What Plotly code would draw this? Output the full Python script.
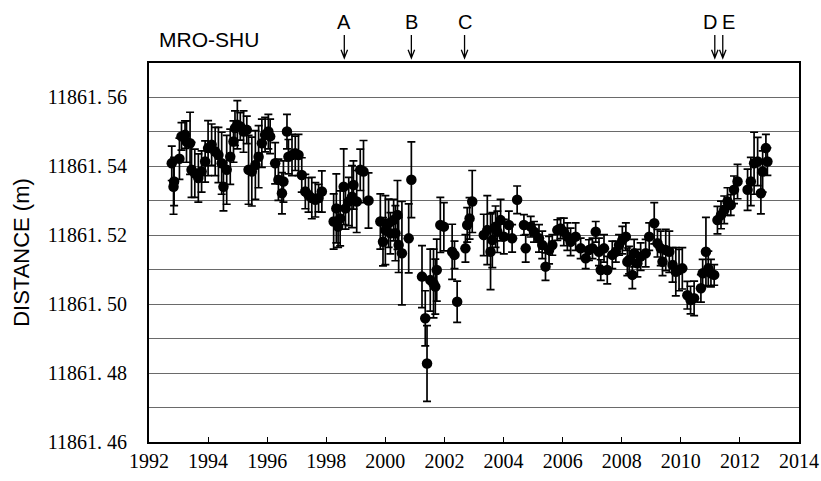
import plotly.graph_objects as go

# decimal year, distance (m), error half-width (m)
years = [
    1992.77, 1992.85, 1992.83, 1993.03, 1993.10, 1993.22, 1993.27, 1993.39, 1993.44, 1993.55,
    1993.67, 1993.78, 1993.90, 1994.00, 1994.12, 1994.24, 1994.35, 1994.46, 1994.52, 1994.63,
    1994.75, 1994.86, 1994.91, 1994.99, 1995.09, 1995.20, 1995.31, 1995.37, 1995.48, 1995.60,
    1995.71, 1995.82, 1995.93, 1996.04, 1996.10, 1996.27, 1996.38, 1996.50, 1996.55, 1996.67,
    1996.72, 1996.84, 1996.95, 1997.06, 1997.17, 1997.29, 1997.40, 1997.51, 1997.63, 1997.74,
    1997.85,
    1998.25, 1998.34, 1998.40, 1998.47, 1998.59, 1998.65, 1998.76, 1998.87, 1998.92, 1999.03,
    1999.15, 1999.26, 1999.43,
    1999.83, 1999.92, 2000.00, 2000.11, 2000.17, 2000.28, 2000.34, 2000.41, 2000.45, 2000.56,
    2000.79, 2000.88,
    2001.24, 2001.35, 2001.41, 2001.52, 2001.63, 2001.69, 2001.74, 2001.86, 2001.98, 2002.26,
    2002.34, 2002.43, 2002.71, 2002.77, 2002.85, 2002.94,
    2003.33, 2003.45, 2003.56, 2003.62, 2003.73, 2003.79, 2003.90, 2004.01, 2004.18, 2004.29,
    2004.46, 2004.69, 2004.75, 2004.92, 2005.03, 2005.20, 2005.31, 2005.42, 2005.54, 2005.65,
    2005.82, 2005.93, 2006.04, 2006.16, 2006.27, 2006.44, 2006.61, 2006.78, 2006.89, 2007.01,
    2007.12, 2007.23, 2007.29, 2007.40, 2007.51, 2007.68, 2007.80, 2007.91, 2008.02, 2008.14,
    2008.25, 2008.19, 2008.36, 2008.42, 2008.53, 2008.64, 2008.81, 2008.93, 2009.10, 2009.21,
    2009.32, 2009.38, 2009.49, 2009.61, 2009.72, 2009.83, 2009.94, 2010.05, 2010.22, 2010.33,
    2010.45, 2010.68, 2010.74, 2010.85, 2010.93, 2011.02, 2011.13, 2011.24, 2011.36, 2011.47,
    2011.58, 2011.69, 2011.80, 2011.92, 2012.26, 2012.37, 2012.48, 2012.60, 2012.71, 2012.77,
    2012.88, 2012.93,
]

distance = [
    11861.5409, 11861.5356, 11861.5341, 11861.5422, 11861.5487, 11861.5492, 11861.5472, 11861.5467, 11861.5390, 11861.5380,
    11861.5366, 11861.5385, 11861.5414, 11861.5453, 11861.5463, 11861.5443, 11861.5433, 11861.5409, 11861.5341, 11861.5390,
    11861.5428, 11861.5472, 11861.5511, 11861.5521, 11861.5516, 11861.5501, 11861.5506, 11861.5390, 11861.5385, 11861.5404,
    11861.5428, 11861.5467, 11861.5492, 11861.5501, 11861.5487, 11861.5409, 11861.5361, 11861.5322, 11861.5356, 11861.5501,
    11861.5428, 11861.5433, 11861.5438, 11861.5433, 11861.5375, 11861.5327, 11861.5317, 11861.5308, 11861.5303, 11861.5308,
    11861.5327,
    11861.5240, 11861.5278, 11861.5225, 11861.5249, 11861.5341, 11861.5278, 11861.5298, 11861.5312, 11861.5346, 11861.5298,
    11861.5390, 11861.5385, 11861.5301,
    11861.5240, 11861.5181, 11861.5215, 11861.5235, 11861.5206, 11861.5244, 11861.5206, 11861.5259, 11861.5172, 11861.5148,
    11861.5191, 11861.5361,
    11861.5080, 11861.4959, 11861.4828, 11861.5070, 11861.5060, 11861.5051, 11861.5099, 11861.5230, 11861.5225, 11861.5152,
    11861.5143, 11861.5007, 11861.5162, 11861.5230, 11861.5249, 11861.5298,
    11861.5201, 11861.5215, 11861.5152, 11861.5186, 11861.5225, 11861.5210, 11861.5244, 11861.5196, 11861.5230, 11861.5191,
    11861.5303, 11861.5230, 11861.5162, 11861.5225, 11861.5210, 11861.5191, 11861.5172, 11861.5109, 11861.5157, 11861.5172,
    11861.5215, 11861.5220, 11861.5210, 11861.5196, 11861.5181, 11861.5196, 11861.5162, 11861.5133, 11861.5157, 11861.5162,
    11861.5210, 11861.5152, 11861.5099, 11861.5162, 11861.5099, 11861.5143, 11861.5152, 11861.5172, 11861.5186, 11861.5196,
    11861.5128, 11861.5123, 11861.5085, 11861.5148, 11861.5119, 11861.5138, 11861.5148, 11861.5196, 11861.5235, 11861.5177,
    11861.5162, 11861.5123, 11861.5157, 11861.5152, 11861.5114, 11861.5094, 11861.5099, 11861.5104, 11861.5026, 11861.5012,
    11861.5017, 11861.5046, 11861.5090, 11861.5152, 11861.5104, 11861.5090, 11861.5085, 11861.5244, 11861.5259, 11861.5274,
    11861.5298, 11861.5288, 11861.5332, 11861.5356, 11861.5332, 11861.5356, 11861.5409, 11861.5414, 11861.5322, 11861.5385,
    11861.5453, 11861.5414,
]

errors = [
    0.005, 0.007, 0.008, 0.006, 0.004, 0.004, 0.006, 0.009, 0.008, 0.007,
    0.007, 0.006, 0.006, 0.008, 0.006, 0.007, 0.008, 0.009, 0.007, 0.010,
    0.008, 0.006, 0.005, 0.007, 0.004, 0.006, 0.004, 0.010, 0.010, 0.010,
    0.009, 0.007, 0.005, 0.005, 0.005, 0.006, 0.006, 0.006, 0.006, 0.005,
    0.005, 0.006, 0.005, 0.006, 0.005, 0.005, 0.005, 0.006, 0.005, 0.004,
    0.006,
    0.008, 0.010, 0.006, 0.008, 0.011, 0.006, 0.007, 0.009, 0.007, 0.009,
    0.006, 0.009, 0.008,
    0.008, 0.007, 0.010, 0.007, 0.006, 0.006, 0.008, 0.010, 0.008, 0.015,
    0.010, 0.011,
    0.009, 0.008, 0.011, 0.009, 0.010, 0.008, 0.009, 0.008, 0.007, 0.008,
    0.004, 0.006, 0.004, 0.005, 0.006, 0.009,
    0.006, 0.010, 0.011, 0.008, 0.006, 0.006, 0.006, 0.005, 0.004, 0.004,
    0.004, 0.003, 0.004, 0.003, 0.003, 0.004, 0.004, 0.004, 0.004, 0.003,
    0.003, 0.003, 0.004, 0.004, 0.004, 0.004, 0.003, 0.003, 0.003, 0.003,
    0.003, 0.004, 0.003, 0.004, 0.004, 0.004, 0.003, 0.003, 0.004, 0.004,
    0.004, 0.004, 0.004, 0.004, 0.004, 0.004, 0.004, 0.004, 0.006, 0.004,
    0.005, 0.004, 0.006, 0.006, 0.005, 0.007, 0.006, 0.006, 0.004, 0.004,
    0.005, 0.004, 0.004, 0.010, 0.005, 0.004, 0.003, 0.004, 0.004, 0.004,
    0.004, 0.003, 0.004, 0.005, 0.006, 0.007, 0.009, 0.007, 0.006, 0.006,
    0.004, 0.004,
]

y_tickvals = [11861.46, 11861.47, 11861.48, 11861.49, 11861.50, 11861.51,
              11861.52, 11861.53, 11861.54, 11861.55, 11861.56]
y_ticktext = ["11861. 46", "", "11861. 48", "", "11861. 50", "",
              "11861. 52", "", "11861. 54", "", "11861. 56"]
x_tickvals = [1992, 1994, 1996, 1998, 2000, 2002, 2004, 2006, 2008, 2010, 2012, 2014]

event_labels = ["A", "B", "C", "D", "E"]
event_years = [1998.61, 2000.88, 2002.68, 2011.15, 2011.42]
label_shift = [0, 0, 0, -5, 6]

fig = go.Figure()
fig.add_trace(go.Scatter(
    x=years, y=distance, mode="markers",
    marker=dict(color="black", size=10.5, line=dict(width=0)),
    error_y=dict(type="data", array=errors, visible=True,
                 color="black", thickness=1.7, width=4),
    showlegend=False,
))

annotations = [
    dict(text="MRO-SHU", xref="paper", yref="paper", x=0.013, y=1.062,
         xanchor="left", yanchor="middle", showarrow=False,
         font=dict(family="Liberation Sans", size=21, color="black")),
]
shapes = []
arrow_top, arrow_bot = 1.074, 1.013
head_h, head_w = 0.022, 0.11
for lab, yr, sh in zip(event_labels, event_years, label_shift):
    annotations.append(dict(text=lab, xref="x", yref="paper", x=yr, y=1.108,
                            xshift=sh, xanchor="center", yanchor="middle",
                            showarrow=False,
                            font=dict(family="Liberation Sans", size=20, color="black")))
    path = (f"M {yr},{arrow_top} L {yr},{arrow_bot} "
            f"M {yr - head_w},{arrow_bot + head_h} L {yr},{arrow_bot} "
            f"L {yr + head_w},{arrow_bot + head_h}")
    shapes.append(dict(type="path", xref="x", yref="paper", path=path,
                       line=dict(color="black", width=1.3)))

fig.update_layout(
    width=821, height=481,
    margin=dict(l=149, r=22, t=63, b=39, autoexpand=False),
    paper_bgcolor="white", plot_bgcolor="white",
    annotations=annotations,
    shapes=shapes,
    xaxis=dict(range=[1992, 2014], tickmode="array", tickvals=x_tickvals,
               ticks="inside", ticklen=5, tickcolor="black", tickwidth=1,
               showline=True, linecolor="black", linewidth=2, mirror=True,
               showgrid=False, zeroline=False, automargin=False,
               tickfont=dict(family="Liberation Serif", size=20, color="black")),
    yaxis=dict(range=[11861.46, 11861.57], tickmode="array",
               tickvals=y_tickvals, ticktext=y_ticktext,
               ticks="", ticklabelstandoff=16, automargin=False,
               showline=True, linecolor="black", linewidth=2, mirror=True,
               showgrid=True, gridcolor="#6a6a6a", gridwidth=1, zeroline=False,
               tickfont=dict(family="Liberation Serif", size=20, color="black"),
               title=dict(text="DISTANCE (m)", standoff=12,
                          font=dict(family="Liberation Sans", size=22, color="black"))),
)

fig.write_html("out.html")
